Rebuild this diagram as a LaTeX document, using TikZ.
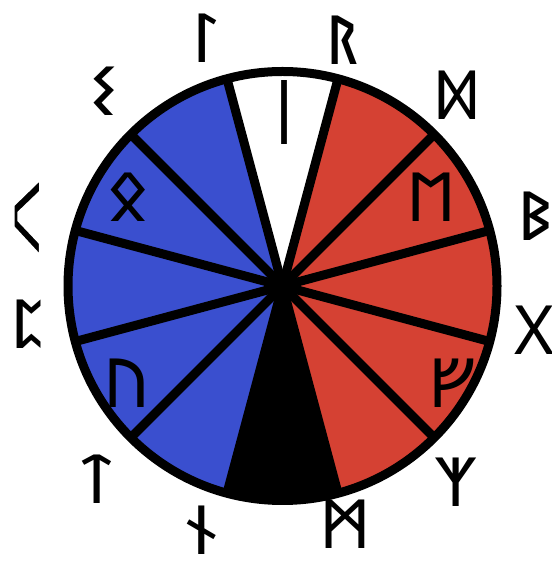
\documentclass[tikz,border=0pt]{standalone}
\usepackage{fontspec}
\newfontfamily\runefont{Noto Sans Runic}
\definecolor{wheelblue}{RGB}{58,79,207}
\definecolor{wheelred}{RGB}{213,65,51}
% a big glyph with its strokes thinned by a white outline
\newcommand{\thinrune}[2]{\special{pdf:literal q 2 Tr 1 1 1 RG #1 w}#2\special{pdf:literal Q}}

\begin{document}
\begin{tikzpicture}[x=1pt,y=1pt,
    rune/.style={font=\runefont\fontsize{68}{68}\selectfont,inner sep=0pt,anchor=center},
    spoke/.style={line width=9pt,black},
    rim/.style={line width=9pt,black}]
  \useasboundingbox (0,0) rectangle (551,561);
  \coordinate (C) at (282.5,275);

  % twelve sectors of the wheel
  \foreach \a/\col in {90/white,60/wheelred,30/wheelred,0/wheelred,-30/wheelred,-60/wheelred,
                       -90/black,-120/wheelblue,-150/wheelblue,180/wheelblue,150/wheelblue,120/wheelblue}
    \fill[\col] (C) -- ++(\a-15:214.5) arc[start angle=\a-15,end angle=\a+15,radius=214.5] -- cycle;
  \foreach \a in {15,45,...,345}
    \draw[spoke] (C) -- ++(\a:214.5);

  % runes inside
  \node[rune,font=\runefont\fontsize{94}{94}\selectfont] (isa) at (284,449) {\thinrune{3}{ᛁ}};
  \node[rune] (othal) at (128,364) {ᛟ};
  \node[rune] (ehwaz) at (432,364) {ᛖ};
  \node[rune] (fehu)  at (452,178) {ᚠ};
  \node[rune] (uruz)  at (127,178) {ᚢ};
  \draw[rim] (C) circle[radius=214.5];

  % runes round the rim
  \node[rune] (laguz)  at (206,523) {ᛚ};
  \node[rune] (raido)  at (343,521) {ᚱ};
  \node[rune] (dagaz)  at (457,466) {ᛞ};
  \node[rune] (berka)  at (535,345) {ᛒ};
  \node[rune] (gebo)   at (534,231) {ᚷ};
  \node[rune] (algiz)  at (456,79)  {ᛉ};
  \node[rune] (manna)  at (345,37)  {ᛗ};
  \node[rune] (naudiz) at (202,31)  {ᚾ};
  \node[rune] (tiwaz)  at (97,82)   {ᛏ};
  \node[rune] (pertho) at (26,237)  {ᛈ};
  \node[rune,font=\runefont\fontsize{300}{300}\selectfont] (kauna) at (27,315) {\thinrune{17}{ᚲ}};
  \node[rune] (sowil)  at (104,470) {ᛊ};
\end{tikzpicture}
\end{document}
